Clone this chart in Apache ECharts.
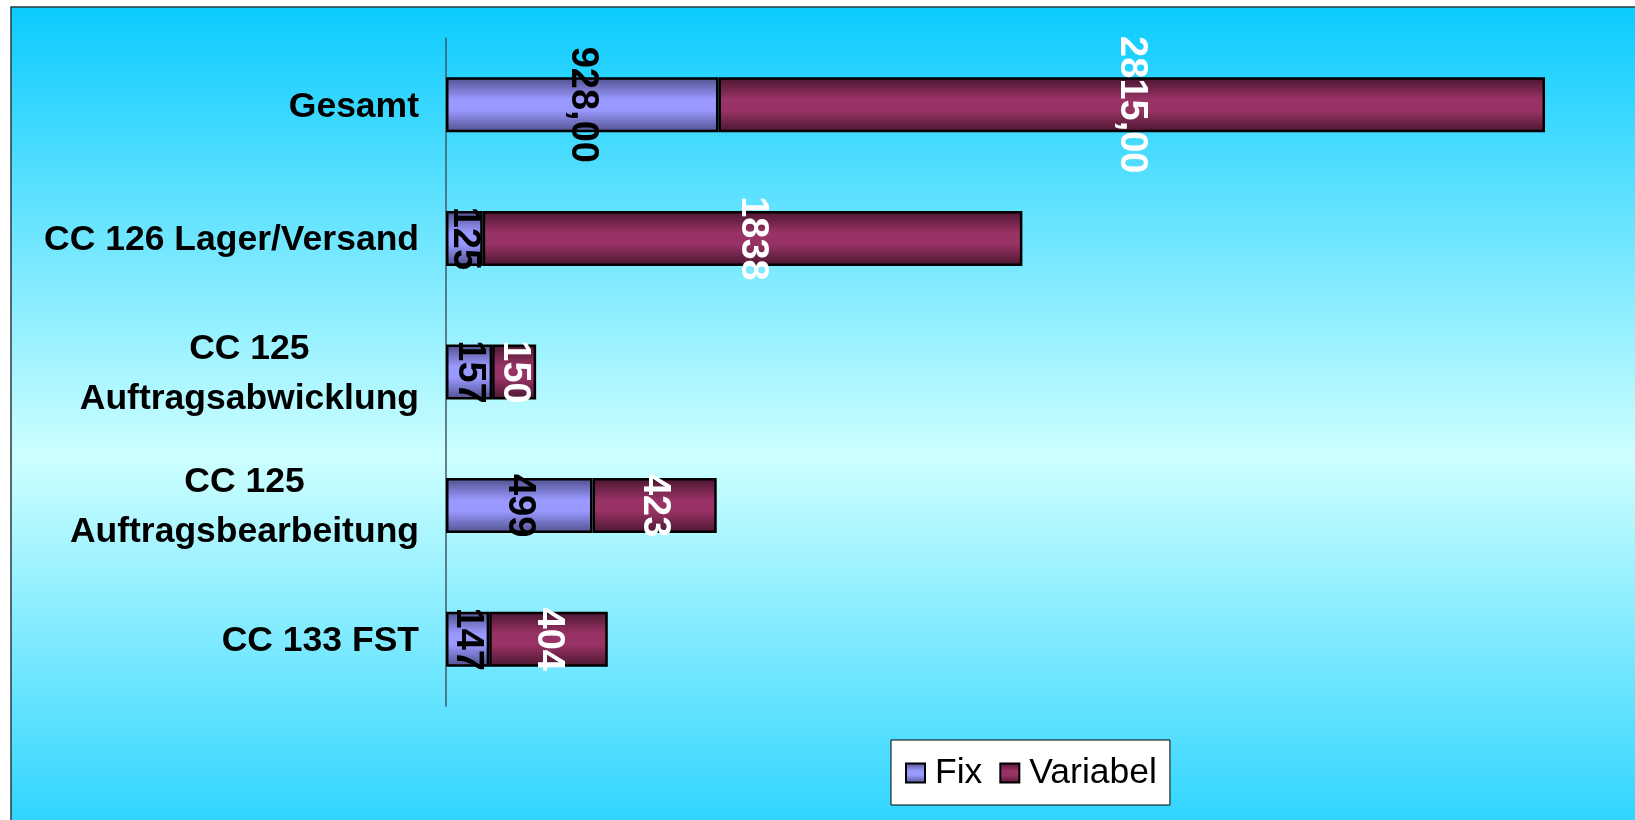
<!DOCTYPE html>
<html>
<head>
<meta charset="utf-8">
<title>Kosten je Kostenstelle</title>
<script src="https://cdn.jsdelivr.net/npm/echarts@6/dist/echarts.min.js"></script>
<style>
  html, body { margin: 0; padding: 0; background: #ffffff; }
  #chart { width: 1635px; height: 820px; }
</style>
</head>
<body>
<div id="chart"></div>
<script>
// Cost centres, top to bottom
var categories = [
  'Gesamt',
  'CC 126 Lager/Versand',
  'CC 125\nAuftragsabwicklung',
  'CC 125\nAuftragsbearbeitung',
  'CC 133 FST'
];
var fixValues = [928, 125, 157, 499, 147];
var variabelValues = [2815, 1838, 150, 423, 404];
// decimals shown in each row's value labels
var labelDecimals = [2, 0, 0, 0, 0];
var seriesNames = ['Fix', 'Variabel'];

function fmt(p) {
  return p.value.toFixed(labelDecimals[p.dataIndex]).replace('.', ',');
}

function barGradient(edge, mid) {
  return new echarts.graphic.LinearGradient(0, 0, 0, 1, [
    { offset: 0, color: edge },
    { offset: 0.4, color: mid },
    { offset: 0.6, color: mid },
    { offset: 1, color: edge }
  ]);
}

var valueFont = "'Liberation Sans Narrow', 'Liberation Sans', Arial, sans-serif";
var labelFont = "'Liberation Sans', Arial, sans-serif";

var chart = echarts.init(document.getElementById('chart'), null, { renderer: 'canvas' });

chart.setOption({
  backgroundColor: '#ffffff',
  animation: false,
  graphic: [{
    type: 'rect',
    z: -10,
    silent: true,
    shape: { x: 11, y: 7, width: 1700, height: 900 },
    style: {
      fill: new echarts.graphic.LinearGradient(0, 0, 0, 1, [
        { offset: 0, color: '#0bcbff' },
        { offset: 0.5, color: '#cdffff' },
        { offset: 1, color: '#0bcbff' }
      ]),
      stroke: '#2a3a40',
      lineWidth: 1.5
    }
  }],
  grid: {
    left: 446,
    top: 38,
    width: 1174.5,
    height: 668,
    containLabel: false
  },
  legend: {
    data: seriesNames,
    left: 891,
    top: 740,
    orient: 'horizontal',
    icon: 'rect',
    backgroundColor: '#ffffff',
    borderColor: '#000000',
    borderWidth: 1,
    padding: [15, 13, 14, 14],
    itemWidth: 19,
    itemHeight: 19,
    itemGap: 17,
    itemStyle: { borderColor: '#000000', borderWidth: 2 },
    textStyle: {
      fontFamily: labelFont,
      fontSize: 35.5,
      color: '#000000',
      padding: [0, 0, 0, 5]
    }
  },
  xAxis: {
    type: 'value',
    min: 0,
    max: 4000,
    show: false
  },
  yAxis: {
    type: 'category',
    data: categories,
    inverse: true,
    axisLine: { show: true, lineStyle: { color: '#3f5a66', width: 1.5 } },
    axisTick: { show: false },
    splitLine: { show: false },
    axisLabel: {
      margin: 27,
      align: 'right',
      color: '#000000',
      fontFamily: labelFont,
      fontWeight: 'bold',
      fontSize: 35.5,
      lineHeight: 50,
      padding: [4, 0, 0, 0],
      formatter: function (v) {
        return v.split('\n').map(function (s) { return '{c|' + s + '}'; }).join('\n');
      },
      rich: {
        c: {
          align: 'center',
          fontFamily: labelFont,
          fontWeight: 'bold',
          fontSize: 35.5,
          lineHeight: 50,
          color: '#000000'
        }
      }
    }
  },
  series: [
    {
      name: seriesNames[0],
      type: 'bar',
      stack: 'kosten',
      barWidth: 55,
      data: fixValues,
      itemStyle: {
        color: barGradient('#4f4f8c', '#9999ff'),
        borderColor: '#000000',
        borderWidth: 2.5
      },
      label: {
        show: true,
        position: 'inside',
        rotate: -90,
        formatter: fmt,
        color: '#000000',
        fontFamily: valueFont,
        fontWeight: 'bold',
        fontSize: 38
      }
    },
    {
      name: seriesNames[1],
      type: 'bar',
      stack: 'kosten',
      barWidth: 55,
      data: variabelValues,
      itemStyle: {
        color: barGradient('#4a1630', '#993366'),
        borderColor: '#000000',
        borderWidth: 2.5
      },
      label: {
        show: true,
        position: 'inside',
        rotate: -90,
        formatter: fmt,
        color: '#ffffff',
        fontFamily: valueFont,
        fontWeight: 'bold',
        fontSize: 38
      }
    }
  ]
});
</script>
</body>
</html>
